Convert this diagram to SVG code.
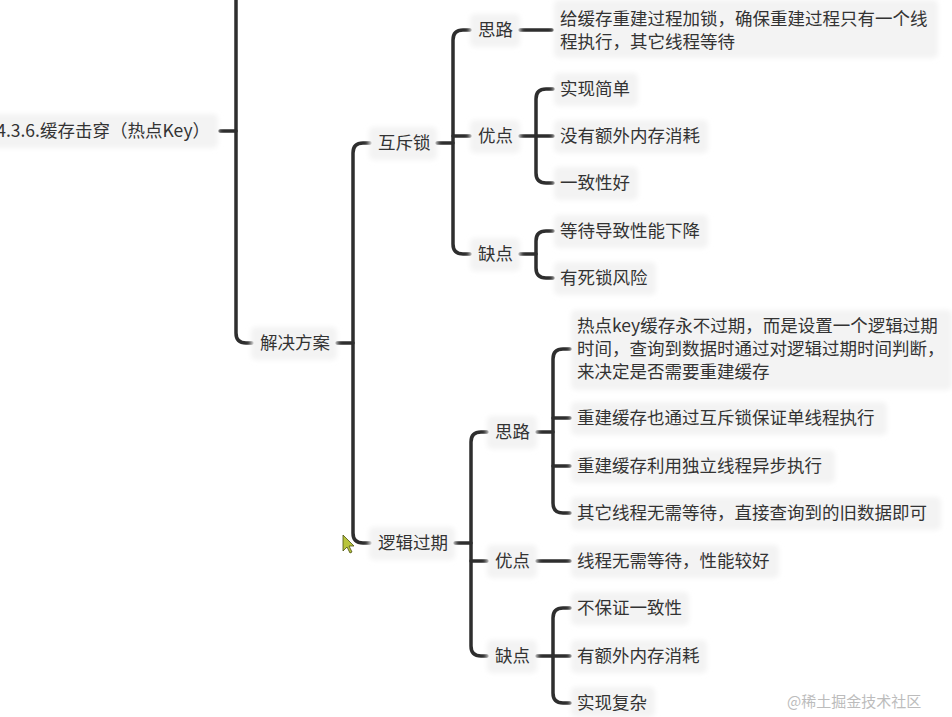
<svg xmlns="http://www.w3.org/2000/svg" width="952" height="717" viewBox="0 0 952 717">
<defs>
<filter id="sh" x="-20%" y="-40%" width="140%" height="180%">
<feGaussianBlur stdDeviation="2.5"/>
</filter>
<style>
.bg{fill:#f3f3f3;filter:url(#sh)}
.t{font-family:"Noto Sans CJK SC","Noto Sans",sans-serif;font-size:17.5px;fill:#333}
.c{fill:none;stroke:#2e2e2e;stroke-width:3.5;stroke-linecap:round;stroke-linejoin:round}
.wm{font-family:"Noto Sans CJK SC",sans-serif;font-size:15px;fill:#bcbcbc}
</style>
</defs>
<rect width="952" height="717" fill="#ffffff"/>
<g id="connectors">
<path class="c" d="M236,0 V333 Q236,343 246,343 H252"/>
<path class="c" d="M220,131 H236"/>
<path class="c" d="M337,343 H353"/>
<path class="c" d="M370,143 H363 Q353,143 353,153 V533 Q353,543 363,543 H370"/>
<path class="c" d="M437,143 H453"/>
<path class="c" d="M470,30 H463 Q453,30 453,40 V244 Q453,254 463,254 H470"/>
<path class="c" d="M453,136 H470"/>
<path class="c" d="M520,30 H552"/>
<path class="c" d="M520,136 H553"/>
<path class="c" d="M553,89 H546 Q536,89 536,99 V173 Q536,183 546,183 H553"/>
<path class="c" d="M520,254 H536"/>
<path class="c" d="M553,231 H546 Q536,231 536,241 V268 Q536,278 546,278 H553"/>
<path class="c" d="M455,543 H471"/>
<path class="c" d="M487,432 H481 Q471,432 471,442 V646 Q471,656 481,656 H487"/>
<path class="c" d="M471,561 H487"/>
<path class="c" d="M537,432 H553"/>
<path class="c" d="M570,349 H563 Q553,349 553,359 V503 Q553,513 563,513 H570"/>
<path class="c" d="M553,418 H570"/>
<path class="c" d="M553,466 H570"/>
<path class="c" d="M537,561 H570"/>
<path class="c" d="M537,656 H553"/>
<path class="c" d="M570,608 H563 Q553,608 553,618 V693 Q553,703 563,703 H570"/>
<path class="c" d="M553,656 H570"/>
</g>
<g id="root"><rect class="bg" x="-10" y="114" width="228" height="34" rx="5"/><text class="t" x="210" y="137" text-anchor="end">4.3.6.缓存击穿（热点Key）</text></g>
<g id="solution"><rect class="bg" x="251" y="327" width="86" height="33" rx="5"/><text class="t" x="260" y="349">解决方案</text></g>
<g id="mutex"><rect class="bg" x="369" y="127" width="68" height="33" rx="5"/><text class="t" x="378" y="149">互斥锁</text></g>
<g id="logical"><rect class="bg" x="369" y="527" width="86" height="33" rx="5"/><text class="t" x="378" y="549">逻辑过期</text></g>
<g id="m-idea"><rect class="bg" x="470" y="14" width="50" height="33" rx="5"/><text class="t" x="478" y="36">思路</text></g>
<g id="m-idea-1"><rect class="bg" x="554" y="0" width="384" height="58" rx="5"/><text class="t" x="560" y="25">给缓存重建过程加锁，确保重建过程只有一个线</text><text class="t" x="560" y="48">程执行，其它线程等待</text></g>
<g id="m-pro"><rect class="bg" x="470" y="120" width="50" height="33" rx="5"/><text class="t" x="478" y="142">优点</text></g>
<g id="m-pro-1"><rect class="bg" x="554" y="73" width="84" height="33" rx="5"/><text class="t" x="560" y="95">实现简单</text></g>
<g id="m-pro-2"><rect class="bg" x="554" y="120" width="154" height="33" rx="5"/><text class="t" x="560" y="142">没有额外内存消耗</text></g>
<g id="m-pro-3"><rect class="bg" x="554" y="167" width="84" height="33" rx="5"/><text class="t" x="560" y="189">一致性好</text></g>
<g id="m-con"><rect class="bg" x="470" y="238" width="50" height="33" rx="5"/><text class="t" x="478" y="260">缺点</text></g>
<g id="m-con-1"><rect class="bg" x="554" y="215" width="154" height="33" rx="5"/><text class="t" x="560" y="237">等待导致性能下降</text></g>
<g id="m-con-2"><rect class="bg" x="554" y="262" width="102" height="33" rx="5"/><text class="t" x="560" y="284">有死锁风险</text></g>
<g id="l-idea"><rect class="bg" x="487" y="416" width="50" height="33" rx="5"/><text class="t" x="495" y="438">思路</text></g>
<g id="l-idea-1"><rect class="bg" x="571" y="310" width="381" height="80" rx="5"/><text class="t" x="577" y="332">热点key缓存永不过期，而是设置一个逻辑过期</text><text class="t" x="577" y="355">时间，查询到数据时通过对逻辑过期时间判断，</text><text class="t" x="577" y="378">来决定是否需要重建缓存</text></g>
<g id="l-idea-2"><rect class="bg" x="571" y="402" width="316" height="33" rx="5"/><text class="t" x="577" y="424">重建缓存也通过互斥锁保证单线程执行</text></g>
<g id="l-idea-3"><rect class="bg" x="571" y="450" width="264" height="33" rx="5"/><text class="t" x="577" y="472">重建缓存利用独立线程异步执行</text></g>
<g id="l-idea-4"><rect class="bg" x="571" y="497" width="370" height="33" rx="5"/><text class="t" x="577" y="519">其它线程无需等待，直接查询到的旧数据即可</text></g>
<g id="l-pro"><rect class="bg" x="487" y="545" width="50" height="33" rx="5"/><text class="t" x="495" y="567">优点</text></g>
<g id="l-pro-1"><rect class="bg" x="571" y="545" width="208" height="33" rx="5"/><text class="t" x="577" y="567">线程无需等待，性能较好</text></g>
<g id="l-con"><rect class="bg" x="487" y="640" width="50" height="33" rx="5"/><text class="t" x="495" y="662">缺点</text></g>
<g id="l-con-1"><rect class="bg" x="571" y="592" width="118" height="33" rx="5"/><text class="t" x="577" y="614">不保证一致性</text></g>
<g id="l-con-2"><rect class="bg" x="571" y="640" width="136" height="33" rx="5"/><text class="t" x="577" y="662">有额外内存消耗</text></g>
<g id="l-con-3"><rect class="bg" x="571" y="687" width="84" height="30" rx="5"/><text class="t" x="577" y="709">实现复杂</text></g>
<polygon points="343,535 343,551 347,547 350,553 352,552 349,546 354,546" fill="#b8c43c" stroke="#4a5010" stroke-width="0.8"/>
<text class="wm" x="787" y="707">@稀土掘金技术社区</text>
</svg>
